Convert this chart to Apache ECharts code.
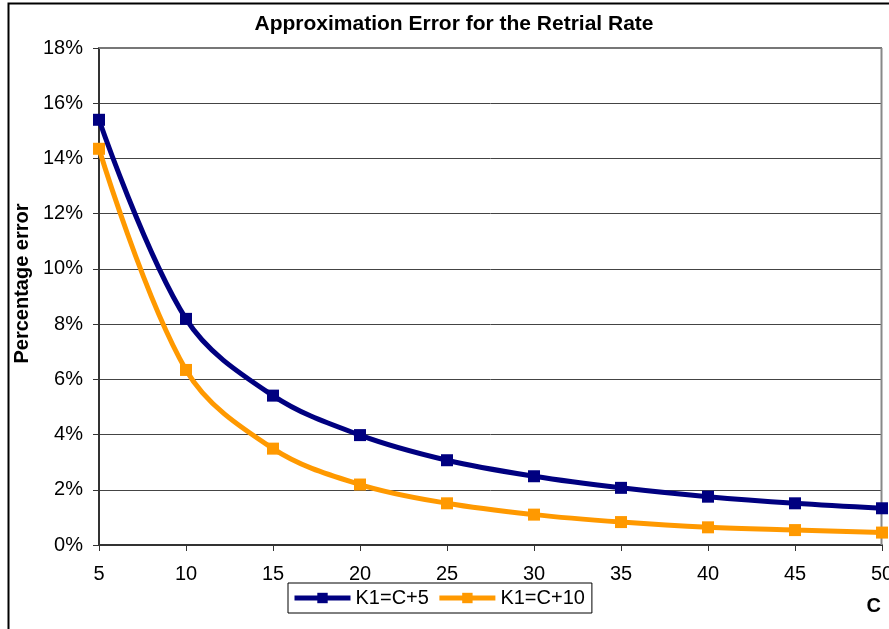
<!DOCTYPE html>
<html>
<head>
<meta charset="utf-8">
<script src="https://cdn.jsdelivr.net/npm/echarts@6/dist/echarts.min.js"></script>
<style>html,body{margin:0;padding:0;background:#fff;}#c{width:889px;height:629px;}</style>
</head>
<body>
<div id="c"></div>
<script>
const categories = [5, 10, 15, 20, 25, 30, 35, 40, 45, 50];
const seriesK5 = [15.4, 8.19, 5.41, 3.98, 3.07, 2.49, 2.07, 1.75, 1.51, 1.33];
const seriesK10 = [14.35, 6.34, 3.49, 2.19, 1.51, 1.10, 0.83, 0.64, 0.54, 0.45];
const yTicks = [0, 2, 4, 6, 8, 10, 12, 14, 16, 18];
const seriesNames = ['K1=C+5', 'K1=C+10'];

const font = '"Liberation Sans", Arial, sans-serif';
const chart = echarts.init(document.getElementById('c'), null, {renderer: 'canvas'});
const toPairs = arr => categories.map((c, i) => [c, arr[i]]);

chart.setOption({
  animation: false,
  backgroundColor: '#fff',
  title: {
    text: 'Approximation Error for the Retrial Rate',
    left: 449, top: 9, textAlign: 'center',
    textStyle: {fontFamily: font, fontSize: 21, fontWeight: 'bold', color: '#000'}
  },
  legend: {
    left: 288, top: 583,
    itemWidth: 56, itemHeight: 13, itemGap: 8,
    padding: [5, 7, 5, 4],
    borderColor: '#000', borderWidth: 1,
    lineStyle: {width: 5},
    textStyle: {fontFamily: font, fontSize: 20, color: '#000'},
    data: seriesNames
  },
  grid: {left: 99, right: 7, top: 48, bottom: 84, containLabel: false, outerBoundsMode: 'none'},
  xAxis: {
    type: 'value', min: 5, max: 50, interval: 5,
    name: 'C', nameLocation: 'end', nameGap: 0,
    nameTextStyle: {fontFamily: font, fontSize: 20, fontWeight: 'bold', color: '#000',
      align: 'right', verticalAlign: 'top', padding: [51, 1, 0, 0]},
    axisLine: {lineStyle: {color: '#333', width: 2}},
    axisTick: {show: true, inside: false, length: 6, lineStyle: {color: '#333', width: 1}},
    axisLabel: {fontFamily: font, fontSize: 20, color: '#000', margin: 19, showMaxLabel: true, showMinLabel: true},
    splitLine: {show: false}
  },
  yAxis: {
    type: 'value', min: 0, max: 18, interval: 2,
    name: 'Percentage error', nameLocation: 'middle', nameGap: 64,
    nameTextStyle: {fontFamily: font, fontSize: 20, fontWeight: 'bold', color: '#000', padding: [0, 0, 0, 26]},
    axisLine: {show: true, lineStyle: {color: '#333', width: 2}},
    axisTick: {show: true, inside: false, length: 6, lineStyle: {color: '#333', width: 1}},
    axisLabel: {fontFamily: font, fontSize: 20, color: '#000', margin: 16,
      formatter: v => yTicks.includes(v) ? v + '%' : ''},
    splitLine: {show: true, lineStyle: {color: '#444', width: 1}}
  },
  graphic: [
    {type: 'rect', shape: {x: 8.5, y: 3.5, width: 900, height: 700}, style: {fill: 'none', stroke: '#000', lineWidth: 2}, z: -1},
    {type: 'line', shape: {x1: 99, y1: 48, x2: 882, y2: 48}, style: {stroke: '#777', lineWidth: 2}, z: 1},
    {type: 'line', shape: {x1: 881.5, y1: 48, x2: 881.5, y2: 545}, style: {stroke: '#888', lineWidth: 2}, z: 1}
  ],
  series: [
    {
      name: seriesNames[0], type: 'line', data: toPairs(seriesK5), smooth: 0.35,
      symbol: 'rect', symbolSize: 12, clip: false,
      lineStyle: {color: '#000080', width: 5},
      itemStyle: {color: '#000080'}, z: 3
    },
    {
      name: seriesNames[1], type: 'line', data: toPairs(seriesK10), smooth: 0.35,
      symbol: 'rect', symbolSize: 12, clip: false,
      lineStyle: {color: '#FF9900', width: 5},
      itemStyle: {color: '#FF9900'}, z: 2
    }
  ]
});
</script>
</body>
</html>
